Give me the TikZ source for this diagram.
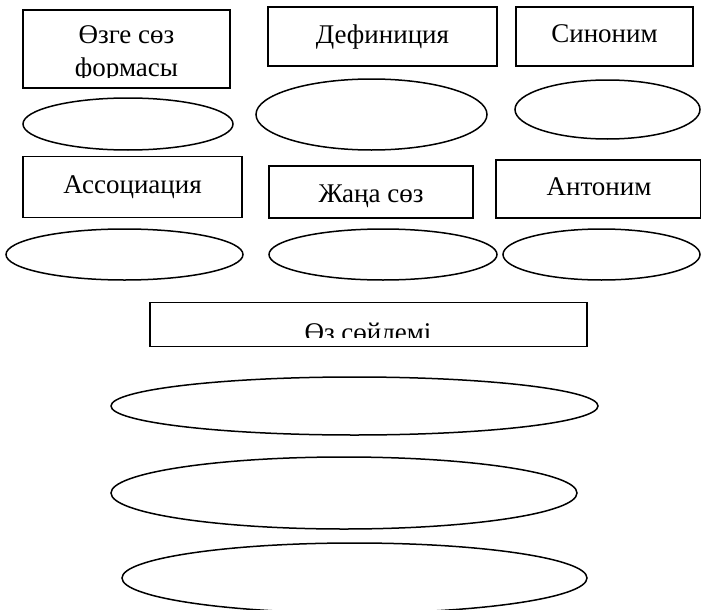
\documentclass[tikz,border=0pt]{standalone}
\usepackage{fontspec}
\setmainfont{Liberation Serif}
\usetikzlibrary{shapes.geometric}

\begin{document}
\begin{tikzpicture}[
  x=1pt, y=-1pt,
  font=\fontsize{27}{33}\selectfont,
  term/.style={draw, rectangle, line width=1.5pt, inner sep=0pt},
  slot/.style={draw, ellipse, line width=1.5pt, inner sep=0pt},
  word/.style={anchor=base, inner sep=0pt, align=center}
]
\useasboundingbox (0,0) rectangle (701,610);

% Row 1 boxes
\node[term, minimum width=207pt, minimum height=78pt] (form) at (126.5,49) {};
\node[term, minimum width=229pt, minimum height=59pt] (def) at (382.5,36.5) {};
\node[term, minimum width=177pt, minimum height=59pt] (syn) at (604.5,36.5) {};
\begin{scope}
  \clip (23,10) rectangle (230,77);
  \node[word] (formtext) at (126.5,77) {Өзге сөз\\формасы};
\end{scope}
\node[word] (deftext) at (382.5,44) {Дефиниция};
\node[word] (syntext) at (604.5,43) {Синоним};

% Row 1 ovals
\node[slot, minimum width=210pt, minimum height=52pt] (formoval) at (128,124) {};
\node[slot, minimum width=231pt, minimum height=71pt] (defoval) at (371.5,114.5) {};
\node[slot, minimum width=185pt, minimum height=59pt] (synoval) at (607.5,109.5) {};

% Row 2 boxes
\node[term, minimum width=219pt, minimum height=61pt] (assoc) at (132.5,187) {};
\node[term, minimum width=204pt, minimum height=52pt] (new) at (371,192) {};
\node[term, minimum width=205pt, minimum height=58pt] (ant) at (598.5,189) {};
\node[word] (assoctext) at (132.5,193) {Ассоциация};
\node[word] (newtext) at (371,202) {Жаңа сөз};
\node[word] (anttext) at (599,195) {Антоним};

% Row 2 ovals
\node[slot, minimum width=237pt, minimum height=51pt] (assocoval) at (124.5,254.5) {};
\node[slot, minimum width=228pt, minimum height=51pt] (newoval) at (383,254.5) {};
\node[slot, minimum width=197pt, minimum height=51pt] (antoval) at (601.5,254.5) {};

% Sentence box
\node[term, minimum width=437pt, minimum height=44pt] (sent) at (368.5,324.5) {};
\begin{scope}
  \clip (150,302) rectangle (587,337);
  \node[word] (senttext) at (368,341) {Өз сөйлемі};
\end{scope}

% Sentence ovals
\node[slot, minimum width=487pt, minimum height=58pt] (sentone) at (354.5,406) {};
\node[slot, minimum width=466pt, minimum height=72pt] (senttwo) at (344,493) {};
\node[slot, minimum width=465pt, minimum height=70pt] (sentthree) at (354.5,578) {};

\end{tikzpicture}
\end{document}
